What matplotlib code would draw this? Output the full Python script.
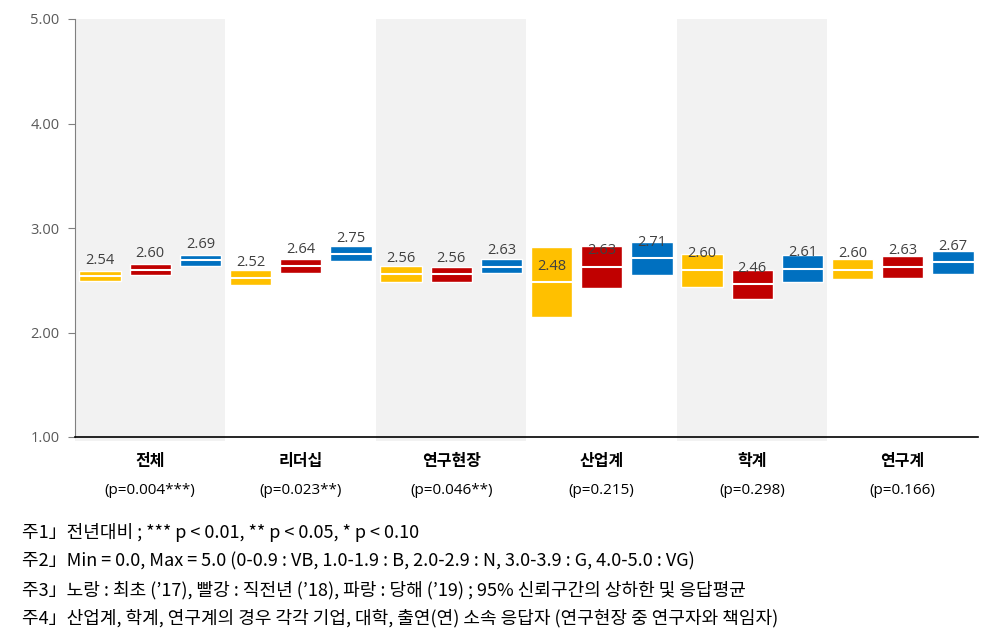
import matplotlib
matplotlib.use("Agg")
import matplotlib.pyplot as plt
import matplotlib.transforms as mtransforms
import numpy as np

plt.rcParams['font.family'] = ['Noto Sans CJK KR', 'DejaVu Sans']

categories = ['전체', '리더십', '연구현장', '산업계', '학계', '연구계']
pvalues = ['(p=0.004***)', '(p=0.023**)', '(p=0.046**)', '(p=0.215)', '(p=0.298)', '(p=0.166)']

mean_17 = [2.54, 2.52, 2.56, 2.48, 2.60, 2.60]
low_17 = [2.49, 2.45, 2.48, 2.15, 2.44, 2.51]
high_17 = [2.59, 2.60, 2.64, 2.82, 2.75, 2.70]

mean_18 = [2.60, 2.64, 2.56, 2.63, 2.46, 2.63]
low_18 = [2.55, 2.57, 2.48, 2.43, 2.32, 2.52]
high_18 = [2.66, 2.70, 2.63, 2.83, 2.60, 2.73]

mean_19 = [2.69, 2.75, 2.63, 2.71, 2.61, 2.67]
low_19 = [2.64, 2.68, 2.57, 2.55, 2.48, 2.56]
high_19 = [2.74, 2.83, 2.70, 2.87, 2.74, 2.78]

yticks = [1.0, 2.0, 3.0, 4.0, 5.0]

notes = [
    '주1」전년대비 ; *** p < 0.01, ** p < 0.05, * p < 0.10',
    '주2」Min = 0.0, Max = 5.0 (0-0.9 : VB, 1.0-1.9 : B, 2.0-2.9 : N, 3.0-3.9 : G, 4.0-5.0 : VG)',
    '주3」노랑 : 최초 (’17), 빨강 : 직전년 (’18), 파랑 : 당해 (’19) ; 95% 신뢰구간의 상하한 및 응답평균',
    '주4」산업계, 학계, 연구계의 경우 각각 기업, 대학, 출연(연) 소속 응답자 (연구현장 중 연구자와 책임자)',
]

colors = ['#FFC000', '#C00000', '#0070C0']
series = [(mean_17, low_17, high_17), (mean_18, low_18, high_18), (mean_19, low_19, high_19)]
offsets = [-0.333, 0.0, 0.333]
width = 0.275

fig = plt.figure(figsize=(9.95, 6.36), dpi=100)
ax = fig.add_axes([75 / 995, 1 - 437 / 636, (978 - 75) / 995, (437 - 19) / 636])

x = np.arange(len(categories))

# gray bands
for i in range(0, len(categories), 2):
    ax.axvspan(i - 0.5, i + 0.5, ymin=-0.01, ymax=1.0, color='#F2F2F2', zorder=0, lw=0, clip_on=False)

for (m, lo, hi), off, c in zip(series, offsets, colors):
    m = np.array(m); lo = np.array(lo); hi = np.array(hi)
    ax.bar(x + off, hi - lo, bottom=lo, width=width, color=c, edgecolor='white', linewidth=1.0, zorder=2)
    ax.hlines(m, x + off - width / 2, x + off + width / 2, colors='white', linewidth=1.5, zorder=3)
    for xi, mi in zip(x + off, m):
        ax.annotate(f'{mi:.2f}', (xi, mi), xytext=(0, 11.5), textcoords='offset points',
                    ha='center', va='center', fontsize=10.5, color='#404040',
                    family=['Open Sans', 'DejaVu Sans'], zorder=4)

ax.set_xlim(-0.5, len(categories) - 0.5)
ax.set_ylim(1.0, 5.0)
ax.set_yticks(yticks)
ax.set_yticklabels([f'{v:.2f}' for v in yticks], fontsize=10.5, color='#595959', family=['Open Sans', 'DejaVu Sans'])
ax.set_xticks([])
ax.tick_params(axis='y', length=5, color='#808080', pad=6)

for s in ['top', 'right']:
    ax.spines[s].set_visible(False)
ax.spines['left'].set_color('#808080')
ax.spines['bottom'].set_color('black')
ax.spines['bottom'].set_linewidth(1.2)
ax.spines['bottom'].set_zorder(5)

trans = mtransforms.blended_transform_factory(ax.transData, fig.transFigure)
for xi, cat, pv in zip(x, categories, pvalues):
    ax.text(xi, 1 - 461 / 636, cat, transform=trans, ha='center', va='center',
            fontsize=11.5, fontweight='bold', color='black')
    ax.text(xi, 1 - 490 / 636, pv, transform=trans, ha='center', va='center',
            fontsize=11, color='black', family=['Open Sans', 'DejaVu Sans'])

for yi, note in zip([533, 561, 590, 618], notes):
    fig.text(22 / 995, 1 - yi / 636, note, ha='left', va='center', fontsize=13, color='black')

fig.savefig('out.png', dpi=100)
